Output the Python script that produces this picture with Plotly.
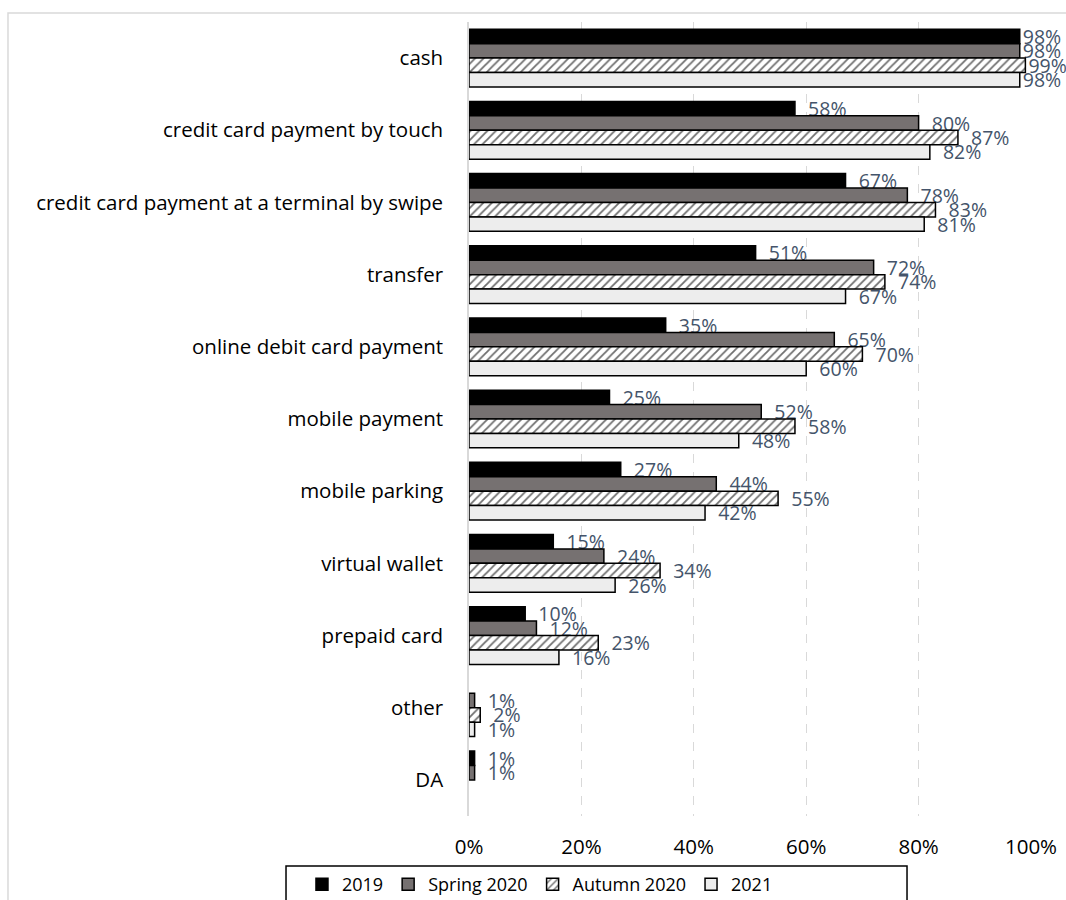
import plotly.graph_objects as go

# Payment methods (top to bottom) and share of respondents using each, in percent
categories = [
    "cash",
    "credit card payment by touch",
    "credit card payment at a terminal by swipe",
    "transfer",
    "online debit card payment",
    "mobile payment",
    "mobile parking",
    "virtual wallet",
    "prepaid card",
    "other",
    "DA",
]
y2019 = [98, 58, 67, 51, 35, 25, 27, 15, 10, None, 1]
spring2020 = [98, 80, 78, 72, 65, 52, 44, 24, 12, 1, 1]
autumn2020 = [99, 87, 83, 74, 70, 58, 55, 34, 23, 2, None]
y2021 = [98, 82, 81, 67, 60, 48, 42, 26, 16, 1, None]

series_names = ["2019", "Spring 2020", "Autumn 2020", "2021"]
x_ticks = [0, 20, 40, 60, 80, 100]

FONT = "Open Sans"
LABEL_COLOR = "#44546a"
GRID = "#d9d9d9"

styles = [
    dict(color="#000000", pattern=None),
    dict(color="#767171", pattern=None),
    dict(color="#ffffff", pattern=dict(shape="/", fgcolor="#6f6f6f", bgcolor="#ffffff",
                                       size=6, solidity=0.3, fillmode="replace")),
    dict(color="#ededed", pattern=None),
]


def label(v):
    # labels sit a little clear of the bar end, except where the bar nearly fills the axis
    if v is None:
        return ""
    return f"{v}%" if v >= 95 else f"  {v}%"


fig = go.Figure()
for name, vals, st in zip(series_names, [y2019, spring2020, autumn2020, y2021], styles):
    xs = [None if v is None else v / 100 for v in vals]
    marker = dict(color=st["color"], line=dict(color="#000000", width=1.5))
    if st["pattern"] is not None:
        marker["pattern"] = st["pattern"]
    fig.add_trace(go.Bar(
        name=name,
        y=categories,
        x=xs,
        orientation="h",
        marker=marker,
        text=[label(v) for v in vals],
        textposition="outside",
        textfont=dict(family=FONT, size=19.5, color=LABEL_COLOR),
        constraintext="none",
        cliponaxis=False,
        hoverinfo="skip",
    ))

fig.update_layout(
    width=1066,
    height=900,
    barmode="group",
    bargap=0.2,
    bargroupgap=0,
    plot_bgcolor="#ffffff",
    paper_bgcolor="#ffffff",
    margin=dict(l=469, r=35, t=22, b=84, autoexpand=False),
    font=dict(family=FONT, size=20, color="#000000"),
    showlegend=True,
    legend=dict(
        orientation="h",
        x=-0.2972,
        xanchor="left",
        y=-0.063,
        yanchor="top",
        borderwidth=0,
        bgcolor="rgba(0,0,0,0)",
        font=dict(family=FONT, size=18, color="#000000"),
        itemwidth=30,
        traceorder="normal",
        tracegroupgap=0,
    ),
    xaxis=dict(
        range=[0, 1],
        tickvals=[t / 100 for t in x_ticks],
        ticktext=[f"{t}%" for t in x_ticks],
        showgrid=True,
        gridcolor=GRID,
        griddash="dash",
        gridwidth=1,
        zeroline=False,
        showline=False,
        ticks="outside",
        ticklen=12,
        tickcolor="rgba(0,0,0,0)",
        tickfont=dict(family=FONT, size=20.5, color="#000000"),
        fixedrange=True,
    ),
    yaxis=dict(
        autorange="reversed",
        showline=True,
        linecolor=GRID,
        linewidth=1.5,
        ticks="outside",
        ticklen=20,
        tickcolor="rgba(0,0,0,0)",
        tickfont=dict(family=FONT, size=20.5, color="#000000"),
        showgrid=False,
    ),
    shapes=[
        # chart-area frame
        dict(type="rect", xref="paper", yref="paper",
             x0=-0.8203, x1=1.2, y0=-0.3, y1=1.0113,
             line=dict(color=GRID, width=1.5), fillcolor="rgba(0,0,0,0)", layer="below"),
        # legend frame
        dict(type="rect", xref="paper", yref="paper",
             x0=-0.3256, x1=0.7794, y0=-0.2, y1=-0.063,
             line=dict(color="#000000", width=1.5), fillcolor="rgba(0,0,0,0)", layer="above"),
    ],
)

fig.write_html("out.html")
